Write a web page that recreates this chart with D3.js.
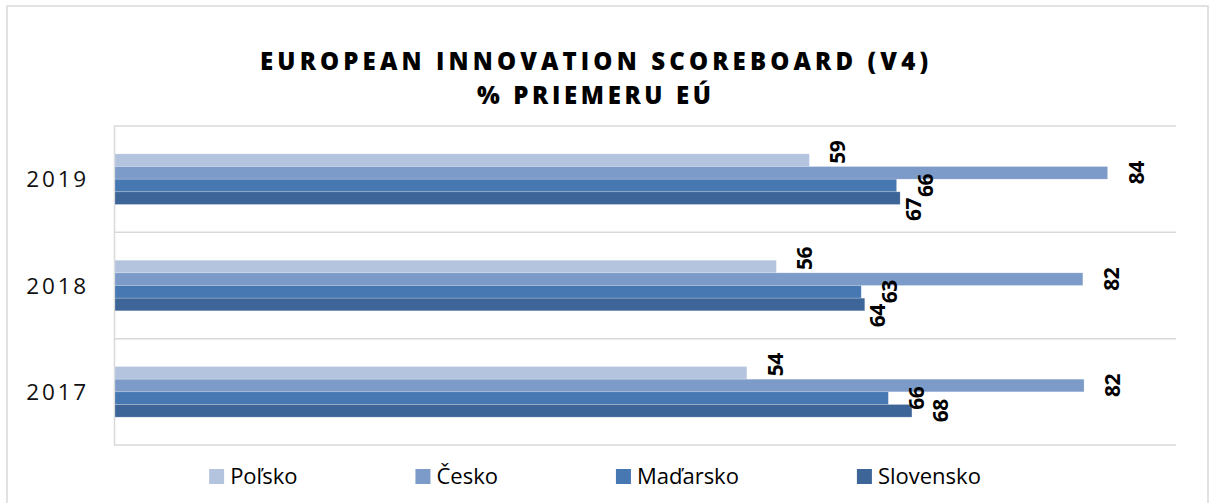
<!DOCTYPE html>
<html>
<head>
<meta charset="utf-8">
<script src="https://cdn.jsdelivr.net/npm/d3@7"></script>
<style>
  body { margin: 0; background: #fff; }
  svg { display: block; font-family: "Open Sans", "Noto Sans", sans-serif; }
</style>
</head>
<body>
<div id="chart"></div>
<script>
// --- data ---
const years = ["2019", "2018", "2017"];
const countries = ["Poľsko", "Česko", "Maďarsko", "Slovensko"];
const polsko = [58.9, 56.1, 53.6];
const cesko = [84.2, 82.1, 82.2];
const madarsko = [66.3, 63.3, 65.6];
const slovensko = [66.6, 63.6, 67.6];
const colors = ["#b4c4de", "#7d9bc8", "#4878b1", "#3e6597"];
const titleLines = ["EUROPEAN INNOVATION SCOREBOARD (V4)", "% PRIEMERU EÚ"];

const series = [polsko, cesko, madarsko, slovensko];

const width = 1215, height = 503;
const svg = d3.select("#chart").append("svg")
    .attr("width", width)
    .attr("height", height);

// --- outer frame ---
svg.append("rect")
    .attr("x", 7).attr("y", 6)
    .attr("width", 1201).attr("height", 520)
    .attr("fill", "#fff")
    .attr("stroke", "#d9d9d9")
    .attr("stroke-width", 1.5);

// --- title ---
const titleWidths = [668, 234];
svg.selectAll("text.title")
    .data(titleLines)
    .enter()
    .append("text")
    .attr("class", "title")
    .attr("x", 594)
    .attr("y", (d, i) => 70 + i * 34)
    .attr("text-anchor", "middle")
    .attr("font-size", 24)
    .attr("font-weight", 800)
    .attr("fill", "#000")
    .attr("textLength", (d, i) => titleWidths[i])
    .attr("lengthAdjust", "spacing")
    .text(d => d);

// --- scales ---
const plot = { left: 115, right: 1176, top: 126, bottom: 445 };
const x = d3.scaleLinear().domain([0, 90]).range([plot.left, plot.right]);
const y = d3.scaleBand().domain(years).range([plot.top, plot.bottom]);
const groupH = y.bandwidth() * 0.476;
const yInner = d3.scaleBand().domain(countries)
    .range([(y.bandwidth() - groupH) / 2, (y.bandwidth() + groupH) / 2]);

// --- grid lines between categories ---
const gridYs = years.map(d => y(d)).concat([plot.bottom]);
svg.selectAll("line.grid")
    .data(gridYs)
    .enter()
    .append("line")
    .attr("class", "grid")
    .attr("x1", plot.left - 1).attr("x2", plot.right)
    .attr("y1", d => d).attr("y2", d => d)
    .attr("stroke", "#d9d9d9")
    .attr("stroke-width", 1.5);

svg.append("line")
    .attr("x1", plot.left - 0.5).attr("x2", plot.left - 0.5)
    .attr("y1", plot.top).attr("y2", plot.bottom)
    .attr("stroke", "#d9d9d9")
    .attr("stroke-width", 1.5);

// --- year labels ---
svg.selectAll("text.year")
    .data(years)
    .enter()
    .append("text")
    .attr("class", "year")
    .attr("x", 89)
    .attr("y", d => y(d) + y.bandwidth() / 2 + 8)
    .attr("text-anchor", "end")
    .attr("font-size", 22.5)
    .attr("letter-spacing", 2.8)
    .attr("fill", "#111")
    .text(d => d);

// --- bars ---
const rows = [];
years.forEach((yr, i) => {
    countries.forEach((c, j) => {
        rows.push({ year: yr, country: c, value: series[j][i], idx: j });
    });
});

const groups = svg.selectAll("g.year-group")
    .data(years)
    .enter()
    .append("g")
    .attr("transform", d => `translate(0,${y(d)})`);

groups.selectAll("rect")
    .data(yr => rows.filter(r => r.year === yr))
    .enter()
    .append("rect")
    .attr("x", x(0))
    .attr("y", d => yInner(d.country))
    .attr("width", d => x(d.value) - x(0))
    .attr("height", yInner.bandwidth())
    .attr("fill", d => colors[d.idx])
    .attr("stroke", "rgba(255,255,255,0.35)")
    .attr("stroke-width", 0.6);

// --- data labels (rotated; a label that hits the previous one is moved down and left) ---
const fmt = d3.format(".0f");
const labelH = 22, labelW = 16;
const baseDy = [-8, 0, 0, 0];
years.forEach(yr => {
    const placed = [];
    rows.filter(r => r.year === yr).forEach(r => {
        let bx = x(r.value) + 36;
        let cy = y(yr) + yInner(r.country) + yInner.bandwidth() / 2 + baseDy[r.idx];
        placed.forEach(p => {
            const xOverlap = bx - labelW < p.bx && p.bx - labelW < bx;
            if (xOverlap && cy - labelH / 2 < p.cy + labelH / 2 && cy + labelH / 2 > p.cy - labelH / 2) {
                cy = p.cy + labelH + 2;
                bx = Math.min(bx, p.bx - 12);
            }
        });
        placed.push({ bx, cy });
        svg.append("text")
            .attr("transform", `translate(${bx},${cy}) rotate(-90)`)
            .attr("text-anchor", "middle")
            .attr("font-size", 21)
            .attr("font-weight", "bold")
            .attr("letter-spacing", -0.5)
            .attr("fill", "#000")
            .text(fmt(r.value));
    });
});

// --- legend ---
const legend = svg.append("g");
let lx = 0;
const gap = 118;
countries.forEach((c, i) => {
    const item = legend.append("g").attr("transform", `translate(${lx},0)`);
    item.append("rect")
        .attr("x", 0).attr("y", 469)
        .attr("width", 15).attr("height", 15)
        .attr("fill", colors[i]);
    const t = item.append("text")
        .attr("x", 21).attr("y", 484)
        .attr("font-size", 22)
        .attr("fill", "#000")
        .text(c);
    lx += 21 + t.node().getComputedTextLength() + gap;
});
const legendW = lx - gap;
legend.attr("transform", `translate(${595 - legendW / 2},0)`);
</script>
</body>
</html>
